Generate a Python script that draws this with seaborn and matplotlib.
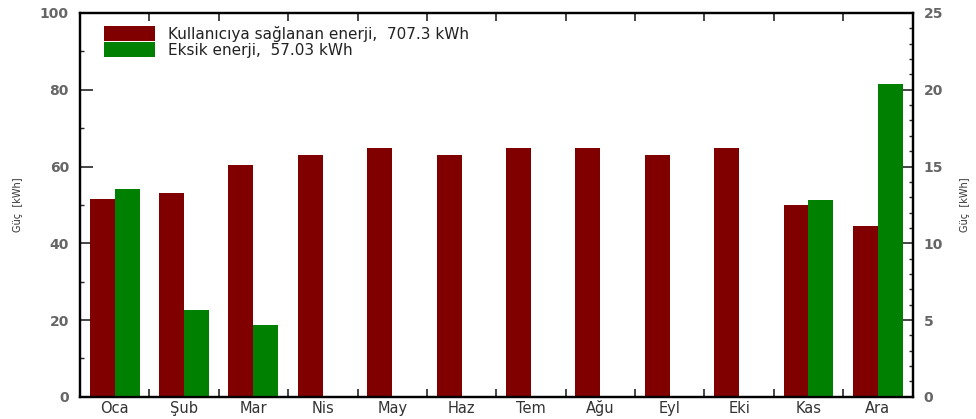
import numpy as np
import pandas as pd
import seaborn as sns
import matplotlib.pyplot as plt
from matplotlib.patches import Patch
from matplotlib.ticker import MultipleLocator

aylar = ['Oca', 'Şub', 'Mar', 'Nis', 'May', 'Haz', 'Tem', 'Ağu', 'Eyl', 'Eki', 'Kas', 'Ara']
saglanan = [51.6, 53.1, 60.4, 63.0, 64.8, 63.0, 64.8, 64.8, 63.0, 64.8, 50.0, 44.5]
eksik = [13.55, 5.65, 4.65, 0, 0, 0, 0, 0, 0, 0, 12.8, 20.4]
seriler = ['Kullanıcıya sağlanan enerji,  707.3 kWh', 'Eksik enerji,  57.03 kWh']
renkler = ['#800000', '#008000']

df1 = pd.DataFrame({'ay': aylar, 'deger': saglanan, 'seri': seriler[0]})
df2 = pd.DataFrame({'ay': aylar, 'deger': eksik, 'seri': seriler[1]})

sns.set_style('white')
plt.rcParams['font.family'] = ['DejaVu Sans']

fig = plt.figure(figsize=(9.76, 4.19), dpi=100)
ax = fig.add_axes([0.082, 0.053, 0.853, 0.916])
ax2 = ax.twinx()

sns.barplot(data=df1, x='ay', y='deger', hue='seri', hue_order=seriler,
            palette=renkler, order=aylar, width=0.72, gap=0, saturation=1,
            dodge=True, linewidth=0, legend=False, ax=ax)
sns.barplot(data=df2, x='ay', y='deger', hue='seri', hue_order=seriler,
            palette=renkler, order=aylar, width=0.72, gap=0, saturation=1,
            dodge=True, linewidth=0, legend=False, ax=ax2)

ax.set_xlim(-0.5, 11.5)
ax.set_ylim(0, 100)
ax2.set_ylim(0, 25)
ax.set_xlabel('')
ax.set_ylabel('Güç  [kWh]', fontsize=7, color='#333333', labelpad=12,
              family='Liberation Sans Narrow')
ax2.set_ylabel('Güç  [kWh]', fontsize=7, color='#333333', labelpad=12,
               family='Liberation Sans Narrow')

ax.yaxis.set_major_locator(MultipleLocator(20))
ax.yaxis.set_minor_locator(MultipleLocator(10))
ax2.yaxis.set_major_locator(MultipleLocator(5))
ax2.yaxis.set_minor_locator(MultipleLocator(1))
ax.set_xticks(np.arange(len(aylar)))
ax.set_xticklabels(aylar, va='baseline')
ax.set_xticks(np.arange(len(aylar) + 1) - 0.5, minor=True)

lc = '#666666'
ax.tick_params(axis='x', which='major', length=0, labelsize=10.5, labelcolor='#333333', pad=12)
ax.tick_params(axis='x', which='minor', direction='in', length=6, width=1.2, top=True, bottom=True)
ax.tick_params(axis='y', which='major', direction='in', length=9, width=1.2, labelsize=10, labelcolor=lc, pad=8)
ax.tick_params(axis='y', which='minor', direction='in', length=3, width=1)
ax2.tick_params(axis='y', which='major', direction='in', length=8, width=1.2, labelsize=10, labelcolor=lc, pad=8)
ax2.tick_params(axis='y', which='minor', direction='in', length=3, width=1)
for t in ax.get_yticklabels() + ax2.get_yticklabels():
    t.set_fontweight('bold')

for a in (ax, ax2):
    for s in a.spines.values():
        s.set_linewidth(1.6)
        s.set_color('black')

handles = [Patch(facecolor=c, edgecolor='none') for c in renkler]
ax.legend(handles, seriler, loc='upper left', bbox_to_anchor=(0.018, 0.99),
          frameon=False, fontsize=11, handlelength=3.35, handleheight=1.15,
          handletextpad=0.85, labelspacing=0.0, borderaxespad=0.2,
          labelcolor='#222222')

fig.savefig('out.png', dpi=100)
